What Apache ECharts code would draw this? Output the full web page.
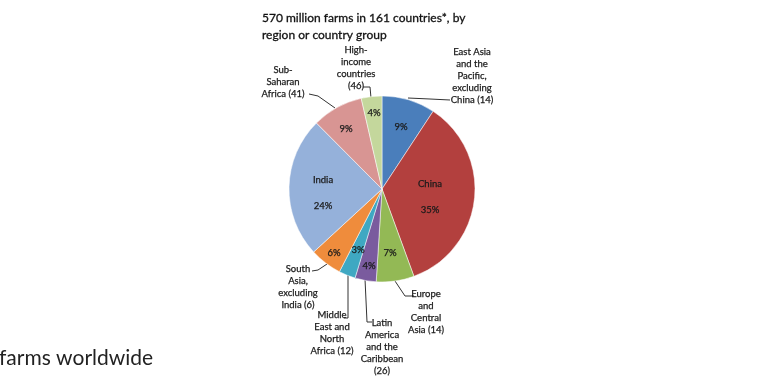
<!DOCTYPE html>
<html><head><meta charset="utf-8">
<script src="https://cdn.jsdelivr.net/npm/echarts@6/dist/echarts.min.js"></script>
<style>html,body{margin:0;padding:0;background:#fff}#c{width:768px;height:384px}</style>
</head><body><div id="c"></div>
<script>
const categories = ['East Asia and the Pacific, excluding China', 'China', 'Europe and Central Asia', 'Latin America and the Caribbean', 'Middle East and North Africa', 'South Asia, excluding India', 'India', 'Sub-Saharan Africa', 'High-income countries'];
const shares = [9.3, 35.3, 6.6, 3.7, 2.9, 5.6, 24.5, 8.9, 3.6];
const countryCounts = [14, null, 14, 26, 12, 6, null, 41, 46];
const outsideLabels = ['East Asia\nand the\nPacific,\nexcluding\nChina (14)', '', 'Europe\nand\nCentral\nAsia (14)', 'Latin\nAmerica\nand the\nCaribbean\n(26)', 'Middle\nEast and\nNorth\nAfrica (12)', 'South\nAsia,\nexcluding\nIndia (6)', '', 'Sub-\nSaharan\nAfrica (41)', 'High-\nincome\ncountries\n(46)'];
const insideNames = ['', 'China', '', '', '', '', 'India', '', ''];
const titleText = '570 million farms in 161 countries*, by\nregion or country group';
const footText = 'farms worldwide';

const colors = ['#4a7ebb', '#b3403e', '#93b955', '#7a5b9e', '#3fa8c2', '#ef8c3c', '#95b1da', '#d89593', '#c4d79c'];
// label layout (positions only)
const inPos = [[401,127],[430,197],[390,253],[369,266],[358,250],[334,253],[323,193],[346,129],[374,113]];
const outPos = [[472,76],null,[426,312],[382,347],[332,333],[298,287],null,[283,82],[356,68]];
const linePts = [
  [[408,98],[430,99],[450,100]], null,
  [[395,281],[405,296],[414,296]],
  [[365,279],[367,322],[372,322]],
  [[348,274],[348,318],[344,318]],
  [[312,271],[318,270],[327,264]], null,
  [[309,94],[318,96],[335,108]],
  [[363,87],[370,87],[371,98]]
];
const FONT = 'Lato';

const chart = echarts.init(document.getElementById('c'), null, {renderer: 'canvas'});
const baseData = categories.map((n, i) => ({name: n, value: shares[i], itemStyle: {color: colors[i]}}));
const outData = categories.map((n, i) => ({
  name: n, value: shares[i],
  label: {show: !!outsideLabels[i]},
  labelLine: {show: !!outsideLabels[i]}
}));

chart.setOption({
  animation: false,
  title: {
    text: titleText, left: 257, top: 5,
    textStyle: {fontFamily: FONT, fontSize: 12, fontWeight: 'normal', color: '#111', lineHeight: 17,
      textBorderColor: '#111', textBorderWidth: 0.3}
  },
  graphic: [{
    type: 'text', left: -1, top: 348,
    style: {text: footText, font: '21px ' + FONT, fill: '#222'}
  }],
  series: [
    {
      type: 'pie', center: [382, 189], radius: 93, startAngle: 90, clockwise: true,
      data: baseData,
      itemStyle: {borderColor: '#fff', borderWidth: 0.5},
      label: {
        show: true, position: 'inside', fontFamily: FONT, fontSize: 9.5, color: '#1a1a1a', lineHeight: 13,
        textBorderColor: '#1a1a1a', textBorderWidth: 0.25,
        formatter: p => (insideNames[p.dataIndex] ? insideNames[p.dataIndex] + '\n\n' : '') + Math.round(p.percent) + '%'
      },
      labelLayout: p => ({x: inPos[p.dataIndex][0], y: inPos[p.dataIndex][1], align: 'center', verticalAlign: 'middle'}),
      emphasis: {disabled: true}
    },
    {
      type: 'pie', center: [382, 189], radius: 93, startAngle: 90, clockwise: true, silent: true,
      data: outData,
      itemStyle: {color: 'rgba(0,0,0,0)'},
      label: {
        show: true, position: 'outside', fontFamily: FONT, fontSize: 9.5, color: '#1a1a1a', lineHeight: 12, align: 'center',
        textBorderColor: '#1a1a1a', textBorderWidth: 0.25,
        formatter: p => outsideLabels[p.dataIndex]
      },
      labelLine: {show: true, lineStyle: {color: '#333', width: 1}},
      labelLayout: p => {
        const i = p.dataIndex;
        if (!outPos[i]) return {};
        return {x: outPos[i][0], y: outPos[i][1], align: 'center', verticalAlign: 'middle', labelLinePoints: linePts[i]};
      },
      emphasis: {disabled: true}
    }
  ]
});
</script></body></html>
